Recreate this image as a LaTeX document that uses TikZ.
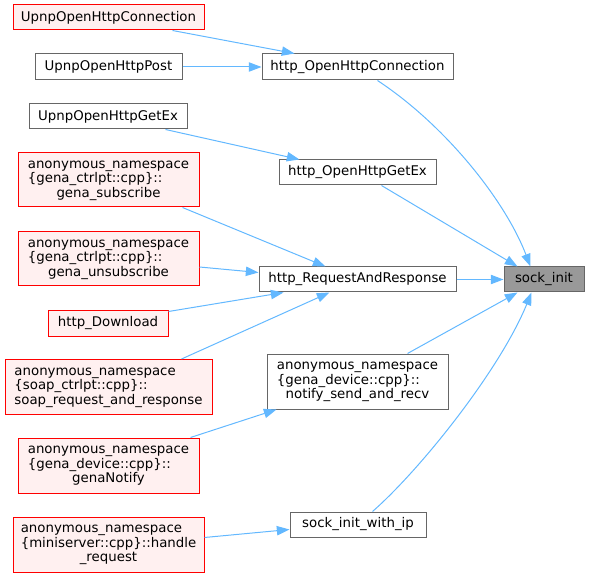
\documentclass[tikz,border=0pt]{standalone}
\usepackage{fontspec}
\setmainfont{DejaVu Sans}
\usetikzlibrary{arrows.meta,calc}
\definecolor{edgec}{HTML}{63B8FF}
\definecolor{redfill}{HTML}{FFF0F0}
\definecolor{gforty}{HTML}{666666}
\definecolor{gsixty}{HTML}{999999}
\newcommand{\threel}[3]{\begin{tabular}{@{}l@{}}#1\\#2\\\multicolumn{1}{@{}c@{}}{#3}\end{tabular}}
\begin{document}
\begin{tikzpicture}[x=0.75pt,y=-0.75pt,
  box/.style={draw=gforty, fill=white, line width=0.75pt, inner sep=0pt, font=\fontsize{10}{10.9}\selectfont},
  redbox/.style={box, draw=red, fill=redfill},
  rootbox/.style={box, fill=gsixty},
  edge/.style={draw=edgec, line width=0.75pt, -{Triangle[length=9.5pt,width=7pt]}}]
\useasboundingbox (0,0) rectangle (589,577);
% left column
\node[redbox, minimum width=191*0.75pt, minimum height=25*0.75pt] (uohc) at (108.5,17.5) {UpnpOpenHttpConnection};
\node[box, minimum width=147*0.75pt, minimum height=26*0.75pt] (uohp) at (108.5,67) {UpnpOpenHttpPost};
\node[box, minimum width=158*0.75pt, minimum height=25*0.75pt] (uohg) at (108,116.5) {UpnpOpenHttpGetEx};
\node[redbox, minimum width=181*0.75pt, minimum height=54*0.75pt] (gsub) at (108.5,180) {\threel{anonymous\_namespace}{\{gena\_ctrlpt::cpp\}::}{gena\_subscribe}};
\node[redbox, minimum width=181*0.75pt, minimum height=54*0.75pt] (gunsub) at (108.5,259) {\threel{anonymous\_namespace}{\{gena\_ctrlpt::cpp\}::}{gena\_unsubscribe}};
\node[redbox, minimum width=120*0.75pt, minimum height=25*0.75pt] (hdl) at (108,323.5) {http\_Download};
\node[redbox, minimum width=207*0.75pt, minimum height=55*0.75pt] (soap) at (108.5,387) {\threel{anonymous\_namespace}{\{soap\_ctrlpt::cpp\}::}{soap\_request\_and\_response}};
\node[redbox, minimum width=181*0.75pt, minimum height=55*0.75pt] (gnot) at (108.5,465.5) {\threel{anonymous\_namespace}{\{gena\_device::cpp\}::}{genaNotify}};
\node[redbox, minimum width=191*0.75pt, minimum height=55*0.75pt] (hreq) at (108.5,544.5) {\threel{anonymous\_namespace}{\{miniserver::cpp\}::handle}{\_request}};
% middle column
\node[box, minimum width=191*0.75pt, minimum height=26*0.75pt] (hohc) at (357.5,67) {http\_OpenHttpConnection};
\node[box, minimum width=157*0.75pt, minimum height=25*0.75pt] (hohg) at (357.5,172.5) {http\_OpenHttpGetEx};
\node[box, minimum width=197*0.75pt, minimum height=25*0.75pt] (hrr) at (357.5,279.5) {http\_RequestAndResponse};
\node[box, minimum width=181*0.75pt, minimum height=55*0.75pt] (nsr) at (357.5,381.5) {\threel{anonymous\_namespace}{\{gena\_device::cpp\}::}{notify\_send\_and\_recv}};
\node[box, minimum width=136*0.75pt, minimum height=25*0.75pt] (siwi) at (358,524.5) {sock\_init\_with\_ip};
% root
\node[rootbox, minimum width=80*0.75pt, minimum height=25*0.75pt] (sock) at (544,279.5) {sock\_init};
% edges
\draw[edge] ($(uohc.south west)+(160,0)$) -- ($(hohc.north west)+(33,0)$);
\draw[edge] (uohp.east) -- (hohc.west);
\draw[edge] ($(uohg.south west)+(137,0)$) -- ($(hohg.north west)+(21,0)$);
\draw[edge] ($(gsub.south west)+(165,0)$) -- ($(hrr.north west)+(67,0)$);
\draw[edge] ($(gunsub.east)+(0,8)$) -- ($(hrr.west)+(0,-7)$);
\draw[edge] ($(hdl.north east)+(0,1)$) -- ($(hrr.south west)+(25,0)$);
\draw[edge] ($(soap.north west)+(177,0)$) -- ($(hrr.south west)+(71,0)$);
\draw[edge] ($(gnot.north west)+(173,0)$) -- ($(nsr.south west)+(10,0)$);
\draw[edge] ($(hreq.east)+(0,-7)$) -- ($(siwi.west)+(0,5)$);
\draw[edge] ($(hohc.south west)+(116,0)$) .. controls (445,125) and (505,200) .. ($(sock.north west)+(27,0)$);
\draw[edge] ($(hohg.south west)+(103,0)$) -- ($(sock.north west)+(14,0)$);
\draw[edge] (hrr.east) -- (sock.west);
\draw[edge] ($(nsr.north west)+(141,0)$) -- ($(sock.south west)+(14,0)$);
\draw[edge] ($(siwi.north west)+(83,0)$) .. controls (420,470) and (500,370) .. ($(sock.south west)+(28,0)$);
\end{tikzpicture}
\end{document}
